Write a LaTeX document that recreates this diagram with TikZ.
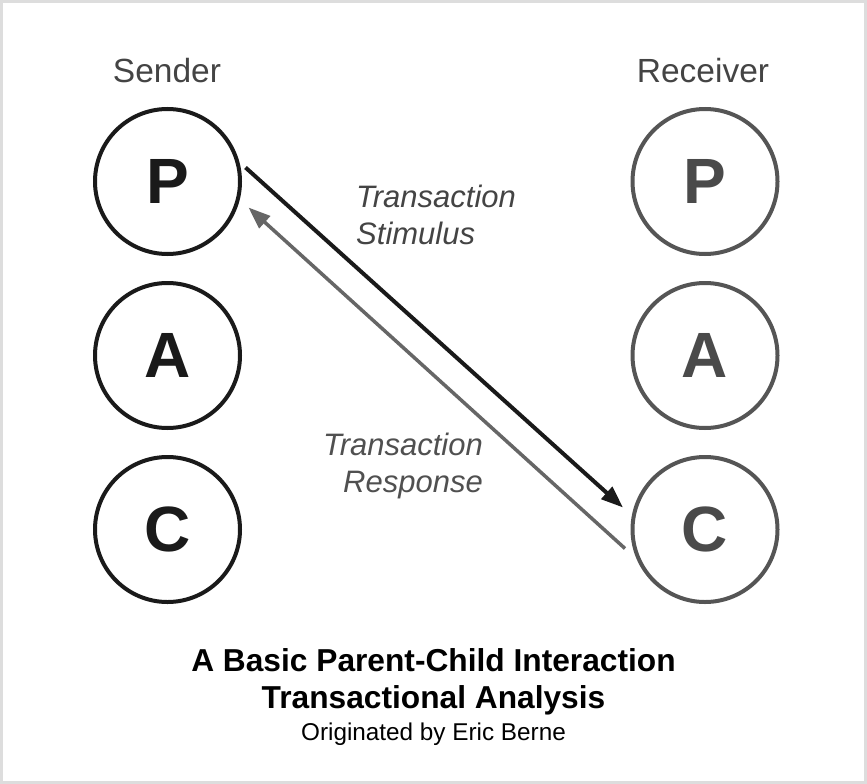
\documentclass[tikz,border=0pt]{standalone}
\usepackage{fontspec}
\setmainfont{Liberation Sans}
\usetikzlibrary{arrows.meta,calc}
\definecolor{senderc}{HTML}{1A1A1A}
\definecolor{recvc}{HTML}{555555}
\definecolor{recvtxt}{HTML}{4A4A4A}
\definecolor{labelc}{HTML}{444444}
\definecolor{resplabelc}{HTML}{505050}
\definecolor{respc}{HTML}{666666}
\definecolor{framec}{HTML}{DDDDDD}
\tikzset{
  egostate/.style={circle, draw, line width=4pt, minimum size=145pt, inner sep=0pt,
    font=\fontsize{64}{64}\selectfont\bfseries},
  sendstate/.style={egostate, draw=senderc, text=senderc},
  recvstate/.style={egostate, draw=recvc, text=recvtxt},
  roletext/.style={anchor=base, inner sep=0pt, text=labelc, font=\fontsize{33.5}{40}\selectfont},
  transtext/.style={inner sep=0pt, text=labelc, font=\fontsize{31}{37}\selectfont\itshape},
  titletext/.style={anchor=base, inner sep=0pt, text=black, font=\fontsize{31.7}{38}\selectfont\bfseries},
  subtext/.style={anchor=base, inner sep=0pt, text=black, font=\fontsize{24.3}{29}\selectfont},
  stimarrow/.style={draw=senderc, line width=4pt, -{Triangle[length=22pt,width=16pt]}},
  resparrow/.style={draw=respc, line width=3.5pt, -{Triangle[length=22pt,width=16pt]}},
}
\begin{document}
\begin{tikzpicture}[x=1pt,y=-1pt]
\useasboundingbox (0,0) rectangle (867,784);
\fill[white] (0,0) rectangle (867,784);
\draw[framec, line width=3pt] (1.5,1.5) rectangle (865.5,782.5);

% role headings
\node[roletext] (sender) at (167,82) {Sender};
\node[roletext] (receiver) at (703,82) {Receiver};

% ego states
\node[sendstate] (sP) at (167.5,181.5) {P};
\node[sendstate] (sA) at (167.5,355.5) {A};
\node[sendstate] (sC) at (167.5,529.5) {C};
\node[recvstate] (rP) at (705,181.5) {P};
\node[recvstate] (rA) at (705,355.5) {A};
\node[recvstate] (rC) at (705,529.5) {C};

% transactions
\draw[stimarrow] ($(sP)+(78,-14)$) -- ($(rC)+(-82,-22)$);
\draw[resparrow] ($(rC)+(-80,19)$) -- ($(sP)+(81,26)$);

% transaction labels
\node[transtext, anchor=base west] (stim1) at (356,207) {Transaction};
\node[transtext, anchor=base west] (stim2) at (356,244) {Stimulus};
\node[transtext, text=resplabelc, anchor=base east] (resp1) at (483,455) {Transaction};
\node[transtext, text=resplabelc, anchor=base east] (resp2) at (483,492) {Response};

% title
\node[titletext] (title1) at (433.5,671) {A Basic Parent-Child Interaction};
\node[titletext] (title2) at (433.5,708) {Transactional Analysis};
\node[subtext] (title3) at (433.5,740) {Originated by Eric Berne};
\end{tikzpicture}
\end{document}
